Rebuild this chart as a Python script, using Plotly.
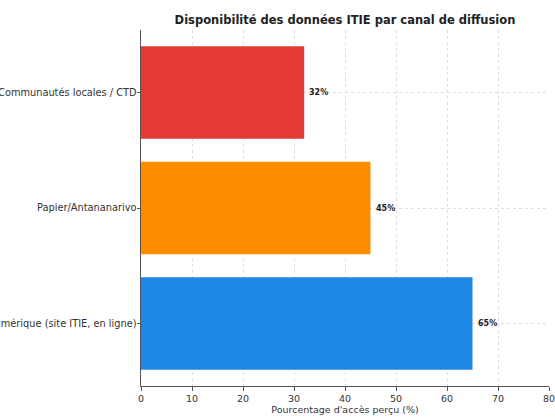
import plotly.graph_objects as go

categories = ["Numérique (site ITIE, en ligne)", "Papier/Antananarivo", "Communautés locales / CTD"]
values = [65, 45, 32]
colors = ["#1e88e5", "#fb8c00", "#e53935"]
value_labels = ["65%", "45%", "32%"]
x_ticks = [0, 10, 20, 30, 40, 50, 60, 70, 80]

FONT = "DejaVu Sans"

fig = go.Figure()
fig.add_trace(go.Bar(
    x=values, y=list(range(len(categories))), orientation="h",
    marker=dict(color=colors, line=dict(width=0)),
    width=0.8, showlegend=False,
))

for i, (v, lab) in enumerate(zip(values, value_labels)):
    fig.add_annotation(x=v + 1, y=i, text="<b>" + lab + "</b>", showarrow=False,
                       xanchor="left", yanchor="middle", xref="x", yref="y",
                       xshift=-2, font=dict(family=FONT, size=8, color="#222"))

fig.update_layout(
    width=555, height=419,
    margin=dict(l=141, r=6, t=30, b=33),
    paper_bgcolor="white", plot_bgcolor="white",
    title=dict(text="<b>Disponibilité des données ITIE par canal de diffusion</b>",
               x=0.5, xref="paper", xanchor="center", y=1 - 20 / 419, yanchor="middle",
               font=dict(family=FONT, size=11.5, color="#222")),
    font=dict(family=FONT, size=9.5, color="#333"),
    bargap=0.2,
)
fig.update_xaxes(range=[0, 80], tickvals=x_ticks, ticktext=[str(t) for t in x_ticks],
                 showgrid=True, gridcolor="#dddddd", griddash="dot", gridwidth=1,
                 showline=True, linecolor="#555", linewidth=1,
                 ticks="outside", ticklen=3.5, tickcolor="#555",
                 zeroline=False, automargin=False, ticklabeloverflow="allow",
                 title=dict(text="Pourcentage d'accès perçu (%)", standoff=2,
                            font=dict(family=FONT, size=9.5, color="#333")),
                 tickfont=dict(family=FONT, size=9.5, color="#333"))
fig.update_yaxes(range=[-0.54, 2.54], tickvals=list(range(len(categories))), ticktext=categories,
                 showgrid=True, gridcolor="#dddddd", griddash="dot", gridwidth=1,
                 showline=True, linecolor="#555", linewidth=1,
                 ticks="outside", ticklen=3.5, tickcolor="#555",
                 zeroline=False, automargin=False, ticklabeloverflow="allow",
                 ticklabelstandoff=-2,
                 tickfont=dict(family=FONT, size=9.8, color="#333"))

fig.write_html("out.html", config={"displayModeBar": False},
               post_script="document.body.style.margin='0';document.body.style.overflow='hidden';")
